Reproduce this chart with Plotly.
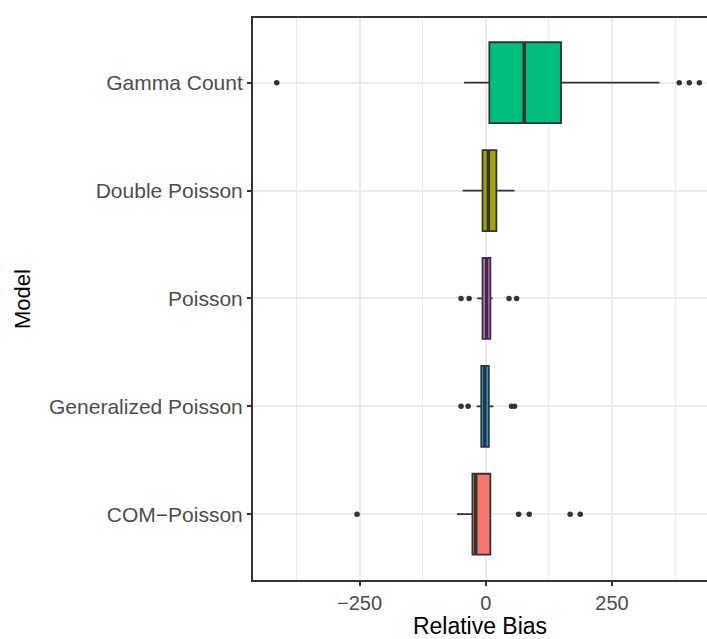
import plotly.graph_objects as go

models = ["COM\u2212Poisson", "Generalized Poisson", "Poisson", "Double Poisson", "Gamma Count"]
colors = ["#F8766D", "#00B0F6", "#E76BF3", "#A3A500", "#00BF7D"]
q1 = [-26.5, -9, -6.5, -6.5, 7]
median = [-20, -2, 1.5, 5, 76]
q3 = [9, 6, 9, 21, 149]
lowerfence = [-57, -18, -17, -46, -43]
upperfence = [9, 15, 13, 57, 344]
outliers = [
    [-255, 65, 86, 167, 187],
    [-49, -35, 51, 57],
    [-49, -33, 46, 61],
    [],
    [-414, 383, 403, 423],
]
x_ticks = [-250, 0, 250]

BOX_W = 0.75
fig = go.Figure()
for i, m in enumerate(models):
    fig.add_trace(go.Box(
        y=[i], q1=[q1[i]], median=[median[i]], q3=[q3[i]],
        lowerfence=[lowerfence[i]], upperfence=[upperfence[i]],
        orientation="h", width=BOX_W, fillcolor=colors[i],
        line=dict(color="#333333", width=1.8), whiskerwidth=0,
        boxpoints=False, showlegend=False, hoverinfo="skip",
    ))
    fig.add_trace(go.Scatter(
        x=[median[i], median[i]], y=[i - BOX_W / 2, i + BOX_W / 2],
        mode="lines", line=dict(color="#333333", width=3.5),
        showlegend=False, hoverinfo="skip",
    ))
    if outliers[i]:
        fig.add_trace(go.Scatter(
            x=outliers[i], y=[i] * len(outliers[i]), mode="markers",
            marker=dict(color="#333333", size=5.5, symbol="circle"),
            showlegend=False, hoverinfo="skip",
        ))

fig.update_layout(
    width=707, height=639,
    margin=dict(l=253, r=0, t=18, b=59),
    plot_bgcolor="white", paper_bgcolor="white",
    font=dict(family="Liberation Sans, Arial, sans-serif"),
)
fig.update_xaxes(
    range=[-461, 438], tickvals=x_ticks, ticktext=["\u2212250", "0", "250"],
    showgrid=True, gridcolor="#EBEBEB", gridwidth=2,
    minor=dict(tickvals=[-375, -125, 125, 375], showgrid=True, gridcolor="#EBEBEB", gridwidth=1, ticks=""),
    showline=True, linecolor="#333333", linewidth=2, mirror=True,
    ticks="outside", ticklen=4, tickcolor="#333333", tickwidth=1.5,
    tickfont=dict(size=20, color="#4D4D4D"), zeroline=False,
    title=dict(text="Relative Bias", font=dict(size=23, color="black"), standoff=4),
)
fig.update_yaxes(
    range=[-0.61, 4.6], tickvals=list(range(len(models))), ticktext=models,
    showgrid=True, gridcolor="#EBEBEB", gridwidth=2,
    showline=True, linecolor="#333333", linewidth=2, mirror=False,
    ticks="outside", ticklen=4, tickcolor="#333333", tickwidth=1.5,
    tickfont=dict(size=21, color="#4D4D4D"), zeroline=False,
    title=dict(text="Model", font=dict(size=22, color="black"), standoff=12),
)
fig.write_html("out.html")
